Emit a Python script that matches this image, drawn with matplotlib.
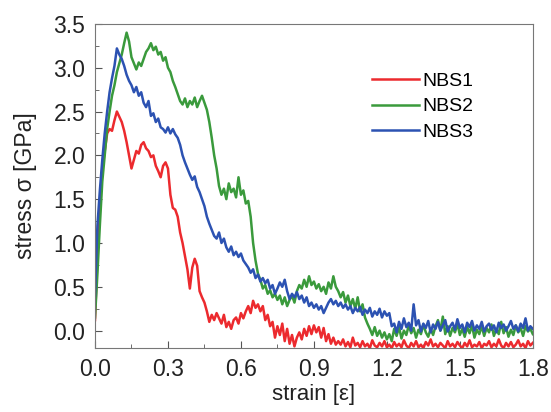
import matplotlib.pyplot as plt
import numpy as np
from matplotlib.ticker import MultipleLocator

plt.rcParams['font.family'] = ['Liberation Sans', 'DejaVu Sans']

# strain sampled every 0.01 from 0 to 1.8
strain = np.round(np.arange(181) * 0.01, 2)

nbs1 = [
    0.12, 0.85, 1.45, 1.85, 2.05, 2.25, 2.30, 2.28, 2.40, 2.50,
    2.44, 2.38, 2.28, 2.15, 2.00, 1.85, 1.95, 2.05, 2.02, 2.12,
    2.15, 2.08, 2.05, 1.98, 2.00, 1.88, 1.82, 1.75, 1.88, 1.92,
    1.85, 1.55, 1.40, 1.38, 1.30, 1.12, 1.00, 0.85, 0.70, 0.48,
    0.72, 0.82, 0.74, 0.45, 0.38, 0.32, 0.22, 0.10, 0.18, 0.12,
    0.20, 0.14, 0.08, 0.18, 0.04, 0.10, 0.02, 0.12, 0.15, 0.08,
    0.20, 0.14, 0.22, 0.28, 0.20, 0.34, 0.26, 0.30, 0.22, 0.28,
    0.12, 0.18, 0.05, 0.10, -0.08, 0.05, -0.05, 0.08, -0.12, 0.02,
    -0.15, -0.05, -0.18, -0.08, -0.02, -0.10, 0.02, -0.06, 0.05, -0.04,
    0.06, -0.02, 0.04, -0.08, 0.03, -0.12, -0.04, -0.15, -0.08, -0.16,
    -0.12, -0.16, -0.10, -0.18, -0.13, -0.19, -0.08, -0.17, -0.14, -0.19,
    -0.12, -0.18, -0.15, -0.20, -0.11, -0.17, -0.19, -0.14, -0.18, -0.12,
    -0.19, -0.16, -0.20, -0.13, -0.18, -0.15, -0.19, -0.11, -0.17, -0.20,
    -0.14, -0.18, -0.12, -0.19, -0.16, -0.20, -0.13, -0.17, -0.10, -0.18,
    -0.15, -0.19, -0.14, -0.17, -0.20, -0.12, -0.18, -0.15, -0.19, -0.13,
    -0.17, -0.20, -0.14, -0.18, -0.11, -0.19, -0.16, -0.18, -0.13, -0.20,
    -0.15, -0.17, -0.12, -0.19, -0.15, -0.18, -0.10, -0.17, -0.20, -0.14,
    -0.18, -0.13, -0.19, -0.16, -0.11, -0.18, -0.15, -0.20, -0.12, -0.17,
    -0.14,
]

nbs2 = [
    0.15, 0.65, 1.20, 1.70, 2.00, 2.30, 2.50, 2.68, 2.80, 2.95,
    3.05, 3.15, 3.28, 3.40, 3.30, 3.12, 3.05, 2.98, 3.06, 3.02,
    3.10, 3.18, 3.22, 3.28, 3.20, 3.24, 3.15, 3.18, 3.08, 3.12,
    3.00, 2.95, 2.85, 2.78, 2.70, 2.62, 2.58, 2.65, 2.55, 2.62,
    2.58, 2.66, 2.55, 2.62, 2.68, 2.60, 2.52, 2.38, 2.20, 2.00,
    1.85, 1.65, 1.55, 1.62, 1.50, 1.68, 1.58, 1.62, 1.52, 1.75,
    1.55, 1.60, 1.45, 1.48, 1.30, 1.00, 0.80, 0.65, 0.58, 0.48,
    0.52, 0.42, 0.46, 0.38, 0.42, 0.35, 0.40, 0.30, 0.38, 0.28,
    0.35, 0.40, 0.32, 0.45, 0.52, 0.48, 0.58, 0.50, 0.62, 0.52,
    0.56, 0.48, 0.53, 0.45, 0.50, 0.42, 0.55, 0.48, 0.62, 0.50,
    0.45, 0.38, 0.44, 0.32, 0.40, 0.28, 0.36, 0.25, 0.38, 0.22,
    0.30, 0.15, 0.08, 0.02, -0.05, 0.04, -0.06, 0.00, -0.08, -0.02,
    -0.10, -0.04, -0.12, 0.02, -0.06, 0.04, -0.09, 0.00, -0.05, 0.06,
    -0.03, 0.03, -0.08, 0.01, -0.04, 0.07, -0.02, -0.07, 0.02, -0.05,
    0.05, 0.12, 0.00, 0.16, -0.04, 0.05, -0.06, 0.03, -0.02, 0.08,
    -0.05, 0.02, -0.07, 0.04, -0.03, 0.06, -0.08, 0.01, -0.04, 0.05,
    -0.06, 0.03, -0.02, 0.07, -0.06, 0.02, -0.04, 0.10, -0.03, 0.04,
    -0.07, 0.01, -0.05, 0.06, -0.02, 0.03, -0.06, 0.05, -0.01, 0.02,
    -0.04,
]

nbs3 = [
    0.40, 1.20, 1.60, 1.95, 2.25, 2.50, 2.72, 2.88, 3.02, 3.22,
    3.15, 3.10, 3.02, 2.92, 2.85, 2.80, 2.72, 2.78, 2.68, 2.72,
    2.60, 2.55, 2.62, 2.45, 2.48, 2.38, 2.42, 2.32, 2.30, 2.26,
    2.32, 2.25, 2.30, 2.24, 2.20, 2.12, 2.00, 1.92, 1.85, 1.78,
    1.72, 1.76, 1.64, 1.58, 1.50, 1.42, 1.30, 1.22, 1.15, 1.08,
    1.05, 1.12, 1.00, 1.05, 0.95, 0.90, 0.96, 0.86, 0.90, 0.84,
    0.88, 0.80, 0.76, 0.72, 0.66, 0.70, 0.60, 0.64, 0.56, 0.60,
    0.54, 0.58, 0.48, 0.52, 0.42, 0.48, 0.55, 0.50, 0.58, 0.45,
    0.36, 0.42, 0.38, 0.44, 0.36, 0.40, 0.32, 0.38, 0.28, 0.32,
    0.26, 0.30, 0.24, 0.28, 0.20, 0.26, 0.32, 0.36, 0.30, 0.34,
    0.28, 0.32, 0.26, 0.30, 0.24, 0.28, 0.20, 0.26, 0.22, 0.27,
    0.18, 0.24, 0.20, 0.26, 0.16, 0.22, 0.18, 0.25, 0.15, 0.22,
    0.17, 0.20, 0.05, 0.08, -0.02, 0.10, 0.02, 0.14, 0.04, 0.09,
    0.00, 0.30, 0.06, 0.12, -0.01, 0.08, 0.03, 0.11, -0.02, 0.07,
    0.02, 0.10, 0.00, 0.06, 0.12, -0.01, 0.05, 0.09, 0.01, 0.13,
    0.03, 0.07, -0.02, 0.09, 0.04, 0.11, 0.00, 0.06, 0.02, 0.10,
    -0.01, 0.05, 0.08, 0.01, 0.06, -0.02, 0.09, 0.03, 0.07, 0.00,
    0.05, 0.11, 0.02, 0.06, -0.01, 0.08, 0.03, 0.14, 0.00, 0.05,
    0.02,
]

labels = ['NBS1', 'NBS2', 'NBS3']
colors = ['#ec2a2e', '#3a9a3c', '#2c52b2']

fig = plt.figure(figsize=(5.51, 4.12), dpi=100)
ax = fig.add_axes([0.1724, 0.155, 0.7946, 0.787])

for y, lab, c in zip([nbs1, nbs2, nbs3], labels, colors):
    ax.plot(strain, y, color=c, lw=1.8, label=lab)

ax.set_xlim(0, 1.8)
ax.set_ylim(-0.2, 3.5)
ax.xaxis.set_major_locator(MultipleLocator(0.3))
ax.xaxis.set_minor_locator(MultipleLocator(0.15))
ax.yaxis.set_major_locator(MultipleLocator(0.5))
ax.yaxis.set_minor_locator(MultipleLocator(0.25))
ax.xaxis.set_major_formatter(plt.FormatStrFormatter('%.1f'))
ax.yaxis.set_major_formatter(plt.FormatStrFormatter('%.1f'))
ax.tick_params(which='both', direction='in', colors='#555555', labelcolor='#222222')
ax.tick_params(which='major', length=5, labelsize=16.5, pad=7)
ax.tick_params(which='minor', length=3)
for s in ax.spines.values():
    s.set_color('#777777')

ax.set_xlabel('strain [ε]', fontsize=16, color='#222222', labelpad=2)
ax.set_ylabel('stress σ [GPa]', fontsize=16.5, color='#222222', labelpad=12)

ax.legend(loc='upper left', bbox_to_anchor=(372 / 551, 1 - 72 / 412),
          bbox_transform=fig.transFigure, frameon=False, fontsize=14,
          handlelength=2.4, handletextpad=0.2, labelspacing=0.42,
          borderpad=0, borderaxespad=0)

fig.savefig('out.png', dpi=100)
